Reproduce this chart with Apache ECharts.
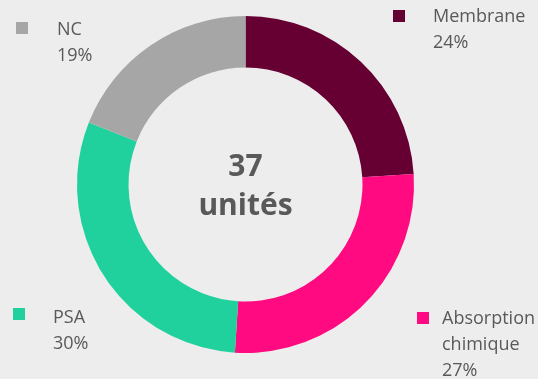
<!DOCTYPE html>
<html>
<head>
<meta charset="utf-8">
<script src="https://cdn.jsdelivr.net/npm/echarts@6/dist/echarts.min.js"></script>
<style>
  html, body { margin: 0; padding: 0; background: #EDEDED; }
  #chart { width: 538px; height: 379px; }
</style>
</head>
<body>
<div id="chart"></div>
<script>
// Répartition des unités par technologie
const categories = ['Membrane', 'Absorption\nchimique', 'PSA', 'NC'];
const shares = [24, 27, 30, 19];
const colors = ['#660033', '#FF0A80', '#20D19E', '#A6A6A6'];
const totalLabel = ['37', 'unités'];

// Legend block placement (marker x, marker y, text x, text y) per category
const legendPlacement = [
  [393, 10, 433, 4],
  [417, 312, 442, 306],
  [13, 308, 53, 305],
  [16, 22, 57, 17]
];

const textColor = '#595959';
const fontFamily = '"Open Sans", sans-serif';

const graphics = [];
categories.forEach((name, i) => {
  const [mx, my, tx, ty] = legendPlacement[i];
  graphics.push({
    type: 'rect',
    shape: { x: mx, y: my, width: 12, height: 12 },
    style: { fill: colors[i] },
    silent: true
  });
  graphics.push({
    type: 'text',
    x: tx,
    y: ty,
    style: {
      text: name + '\n' + shares[i] + '%',
      fill: textColor,
      font: '18px ' + fontFamily,
      lineHeight: 26,
      textAlign: 'left',
      textVerticalAlign: 'top'
    },
    silent: true
  });
});
graphics.push({
  type: 'text',
  x: 245.5,
  y: 148,
  style: {
    text: totalLabel.join('\n'),
    fill: textColor,
    font: 'bold 30px ' + fontFamily,
    lineHeight: 39,
    textAlign: 'center',
    textVerticalAlign: 'top'
  },
  silent: true
});

const chart = echarts.init(document.getElementById('chart'), null, { renderer: 'canvas' });
chart.setOption({
  backgroundColor: '#EDEDED',
  animation: false,
  color: colors,
  series: [{
    type: 'pie',
    center: [245.5, 184.5],
    radius: [117, 168.5],
    startAngle: 90,
    clockwise: true,
    avoidLabelOverlap: false,
    label: { show: false },
    labelLine: { show: false },
    itemStyle: { borderWidth: 0 },
    emphasis: { disabled: true },
    data: categories.map((name, i) => ({ name: name, value: shares[i] }))
  }],
  graphic: graphics
});
</script>
</body>
</html>
